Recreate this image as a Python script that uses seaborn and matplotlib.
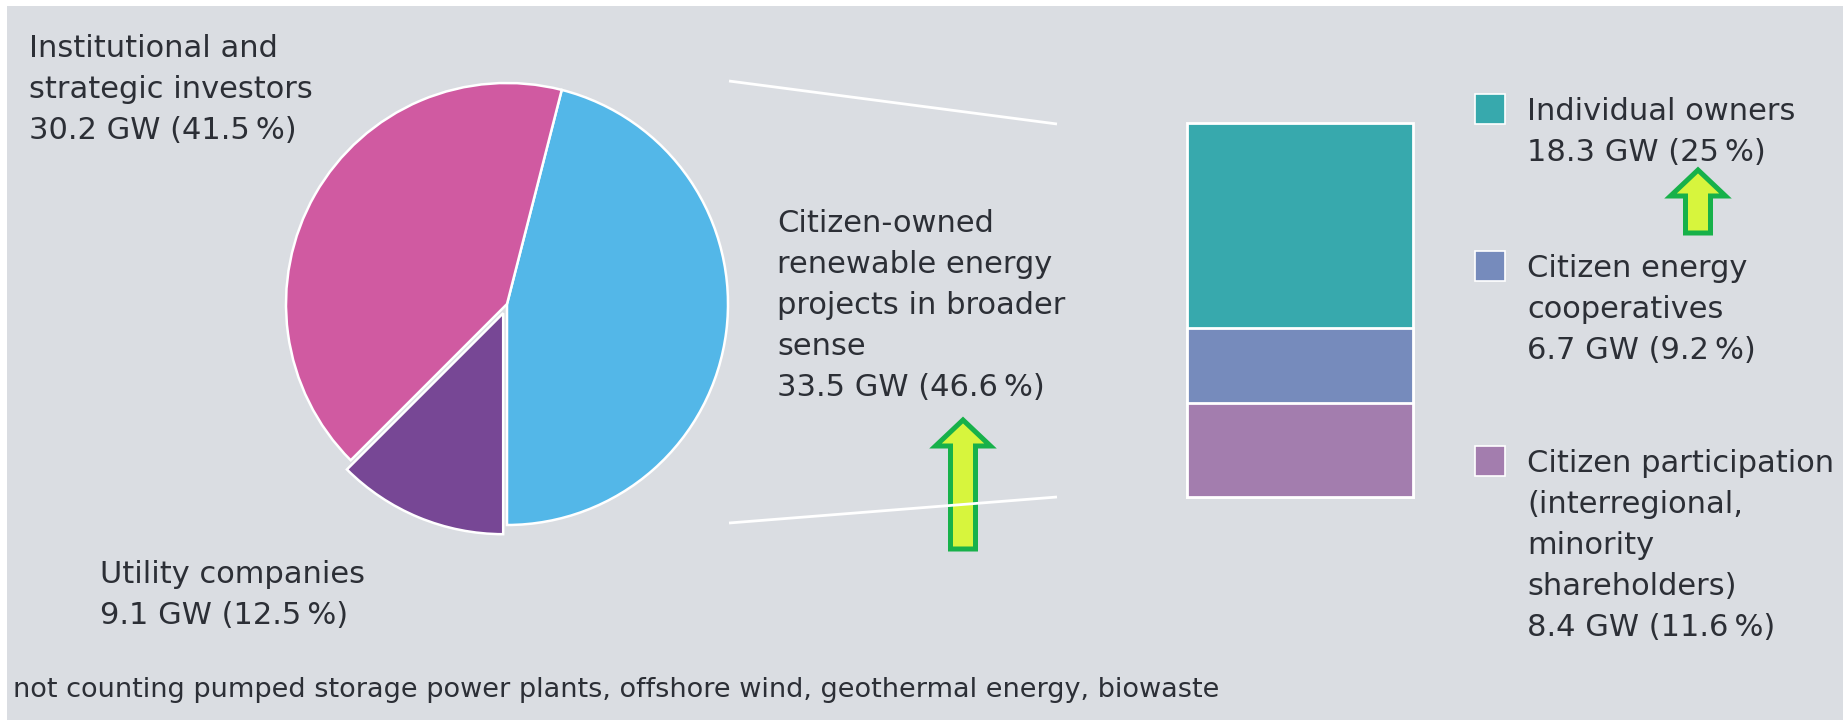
import numpy as np
import matplotlib
matplotlib.use("Agg")
import matplotlib.pyplot as plt
import seaborn as sns
from matplotlib.patches import Rectangle, FancyArrow

# ---------------- data ----------------
owner_groups = ["Citizen-owned renewable energy projects in broader sense",
                "Institutional and strategic investors",
                "Utility companies"]
owner_gw = [33.5, 30.2, 9.1]
owner_pct = ["46.6", "41.5", "12.5"]
owner_label_lines = [["Citizen-owned", "renewable energy", "projects in broader", "sense"],
                     ["Institutional and", "strategic investors"],
                     ["Utility companies"]]

citizen_groups = ["Individual owners",
                  "Citizen energy cooperatives",
                  "Citizen participation (interregional, minority shareholders)"]
citizen_gw = [18.3, 6.7, 8.4]
citizen_pct = ["25", "9.2", "11.6"]
citizen_label_lines = [["Individual owners"],
                       ["Citizen energy", "cooperatives"],
                       ["Citizen participation", "(interregional,", "minority", "shareholders)"]]

footnote = "not counting pumped storage power plants, offshore wind, geothermal energy, biowaste"

# ---------------- style ----------------
W, H = 1843, 720
BG = "#dadde2"
TXT = "#2c2f36"
pie_colors = ["#53b7e8", "#d05aa1", "#774795"]
bar_colors = ["#37a9ad", "#768bbc", "#a37dae"]
ARROW_FILL = "#d7f53d"
ARROW_EDGE = "#17b14a"
FS = 22
STEP = 41.0

sns.set_theme(style="white")
plt.rcParams["font.family"] = ["DejaVu Sans"]

fig = plt.figure(figsize=(W / 100, H / 100), dpi=100, facecolor="white")
fig.patches.append(Rectangle((7 / W, 0), 1 - 7 / W, 1 - 6 / H, transform=fig.transFigure,
                             facecolor=BG, edgecolor="none", zorder=-10))

# ---------------- pie ----------------
cx, cy, r = 507, 304, 221
pax = fig.add_axes([(cx - r) / W, (H - cy - r) / H, 2 * r / W, 2 * r / H])
wedges, _ = pax.pie(owner_gw, colors=pie_colors, startangle=270, counterclock=True,
                    explode=[0, 0, 0.045], radius=1,
                    wedgeprops=dict(edgecolor="white", linewidth=1.8))
for w in wedges:
    w.set_clip_on(False)
pax.set_xlim(-1, 1)
pax.set_ylim(-1, 1)
pax.set_aspect("equal")
pax.axis("off")

# ---------------- stacked bar (seaborn) ----------------
bx0, by0, bw, bh = 1187, 123, 226, 374
bax = fig.add_axes([bx0 / W, (H - by0 - bh) / H, bw / W, bh / H])
stack_order = [2, 1, 0]  # bottom -> top
tops = np.cumsum([citizen_gw[i] for i in stack_order])
for i, top in sorted(zip(stack_order, tops), key=lambda t: -t[1]):
    sns.barplot(x=["citizen"], y=[top], color=bar_colors[i], saturation=1, width=0.8,
                edgecolor="white", linewidth=2, ax=bax)
for p in bax.patches:
    p.set_clip_on(False)
bax.set_xlim(-0.4, 0.4)
bax.set_ylim(0, tops[-1])
bax.axis("off")

# ---------------- overlay (pixel coordinates) ----------------
ov = fig.add_axes([0, 0, 1, 1])
ov.set_xlim(0, W)
ov.set_ylim(H, 0)
ov.axis("off")
ov.patch.set_alpha(0)
ov.set_zorder(5)

# connector lines
ov.plot([729, 1057], [81, 124], color="white", lw=2, solid_capstyle="butt")
ov.plot([729, 1057], [523, 497], color="white", lw=2, solid_capstyle="butt")


def draw_lines(x, base, lines, size=FS):
    for k, line in enumerate(lines):
        ov.text(x, base + k * STEP, line, fontsize=size, color=TXT, ha="left", va="baseline")


def value_line(gw, pct):
    return f"{gw} GW ({pct}\u2009%)"


# pie labels
pie_label_pos = [(777, 232), (29, 57), (100, 583)]
for (x, b), lines, gw, pct in zip(pie_label_pos, owner_label_lines, owner_gw, owner_pct):
    draw_lines(x, b, lines + [value_line(gw, pct)])

# legend for bar
legend_base = [120, 277, 472]
for b, lines, gw, pct, col in zip(legend_base, citizen_label_lines, citizen_gw, citizen_pct, bar_colors):
    ov.add_patch(Rectangle((1475, b - 26), 30, 30, facecolor=col, edgecolor="white", lw=1.2))
    draw_lines(1527, b, lines + [value_line(gw, pct)])

# highlight arrows
for ax_x, tail, tip in [(963, 549, 420), (1698, 233, 170)]:
    ov.add_patch(FancyArrow(ax_x, tail, 0, tip - tail, width=25, head_width=55, head_length=26,
                            length_includes_head=True, facecolor=ARROW_FILL,
                            edgecolor=ARROW_EDGE, lw=3.6, joinstyle="miter"))

# footnote
ov.text(13, 697, footnote, fontsize=19.5, color=TXT, ha="left", va="baseline")

fig.savefig("out.png", dpi=100, facecolor="white")
